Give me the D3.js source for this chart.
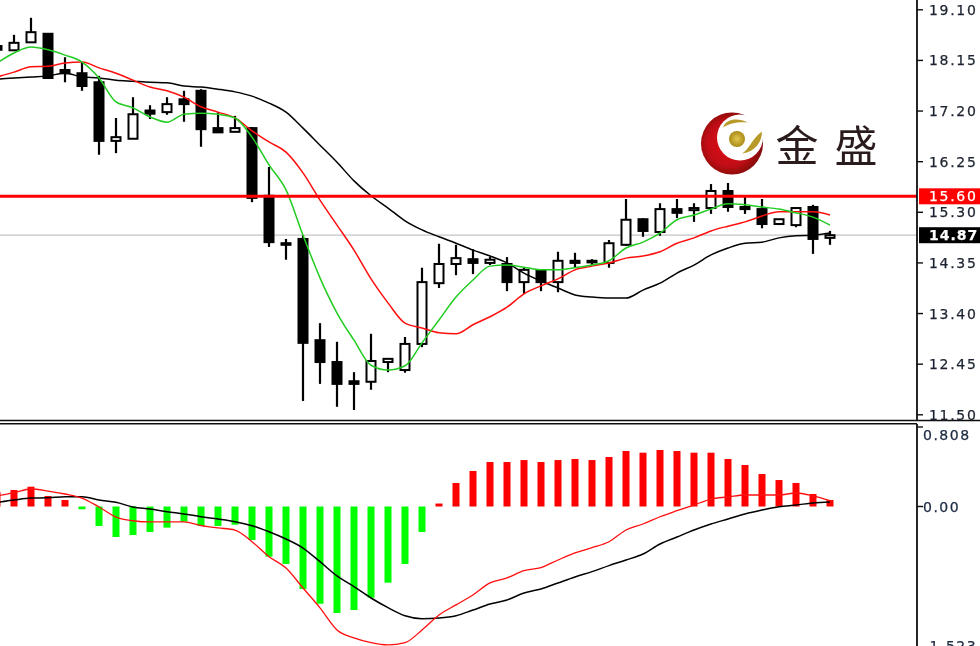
<!DOCTYPE html>
<html><head><meta charset="utf-8">
<script src="https://cdn.jsdelivr.net/npm/d3@7/dist/d3.min.js"></script>
<style>html,body{margin:0;padding:0;background:#fff;overflow:hidden}svg{display:block}</style>
</head><body><svg id="c" width="980" height="646"></svg>
<script>
const opens=[18.42,18.34,18.49,18.65,17.97,17.91,17.74,16.64,16.68,17.21,17.18,17.42,17.58,16.88,16.81,16.88,15.61,14.72,14.80,12.90,12.49,12.13,12.12,12.49,12.34,12.83,13.97,14.33,14.42,14.35,14.33,13.99,14.20,13.99,14.39,14.39,14.35,14.69,15.17,14.93,15.36,15.34,15.38,15.70,15.40,15.36,15.08,15.06,15.40,14.82];
const highs=[18.50,18.63,18.95,18.66,18.21,18.12,17.86,17.07,17.46,17.31,17.46,17.58,17.61,17.18,17.11,16.90,16.15,14.80,14.87,13.22,12.87,12.30,13.02,12.55,12.96,14.26,14.71,14.69,14.61,14.46,14.46,14.26,14.22,14.56,14.54,14.42,14.78,15.55,15.19,15.47,15.55,15.47,15.83,15.85,15.59,15.55,15.17,15.38,15.44,14.95];
const lows=[18.31,18.33,18.48,17.81,17.74,17.58,16.38,16.41,16.68,17.05,17.13,17.00,16.53,16.79,16.81,15.49,14.65,14.41,11.76,12.08,11.65,11.59,11.97,12.30,12.29,12.77,13.88,14.12,14.14,14.31,13.82,13.77,13.82,13.80,14.26,14.31,14.26,14.67,14.84,14.86,15.19,15.12,15.27,15.31,15.27,15.00,15.06,15.02,14.52,14.69];
const closes=[18.35,18.48,18.68,17.82,17.91,17.67,16.64,16.71,17.14,17.15,17.33,17.33,16.86,16.80,16.88,15.57,14.74,14.69,12.85,12.49,12.08,12.08,12.51,12.55,12.83,13.99,14.33,14.44,14.35,14.41,13.99,14.22,13.99,14.39,14.35,14.36,14.72,15.16,14.95,15.36,15.29,15.38,15.70,15.40,15.36,15.08,15.17,15.38,14.80,14.87];
const maFast=[18.10,18.29,18.40,18.35,18.25,18.12,17.82,17.37,17.26,17.09,16.99,17.14,17.16,17.14,17.07,16.71,16.19,15.72,14.87,14.07,13.41,12.90,12.43,12.34,12.42,12.85,13.28,13.71,14.03,14.29,14.31,14.27,14.22,14.22,14.26,14.31,14.39,14.63,14.74,14.91,15.16,15.25,15.36,15.46,15.44,15.40,15.36,15.29,15.21,15.06];
const maMid=[17.84,17.93,18.03,18.04,18.10,18.12,18.01,17.91,17.78,17.65,17.58,17.46,17.28,17.18,17.07,16.83,16.62,16.43,16.04,15.53,15.06,14.59,14.05,13.60,13.22,13.13,13.04,13.02,13.19,13.34,13.52,13.77,13.92,14.05,14.22,14.29,14.35,14.44,14.48,14.56,14.72,14.82,14.95,15.04,15.12,15.23,15.31,15.31,15.31,15.25];
const maSlow=[17.80,17.82,17.84,17.86,17.91,17.84,17.82,17.78,17.76,17.74,17.73,17.67,17.65,17.61,17.56,17.48,17.35,17.18,16.88,16.56,16.24,15.89,15.61,15.38,15.14,14.97,14.84,14.72,14.59,14.48,14.35,14.16,14.01,13.88,13.75,13.71,13.69,13.69,13.84,13.97,14.16,14.31,14.50,14.63,14.72,14.74,14.82,14.86,14.87,14.91];
const macdHist=[.147,.168,.201,.107,.066,-.028,-.198,-.310,-.290,-.259,-.215,-.154,-.198,-.198,-.185,-.340,-.510,-.584,-.838,-.988,-1.082,-1.052,-.927,-.774,-.584,-.259,.030,.239,.361,.452,.452,.472,.452,.472,.483,.472,.503,.564,.547,.574,.564,.547,.547,.483,.422,.330,.269,.239,.127,.066];
const macdRed=[.107,.140,.178,.157,.127,.086,-.005,-.107,-.145,-.157,-.157,-.157,-.195,-.218,-.239,-.358,-.510,-.625,-.828,-1.031,-1.255,-1.336,-1.384,-1.407,-1.384,-1.255,-1.102,-1.000,-.899,-.777,-.726,-.652,-.621,-.544,-.472,-.418,-.358,-.239,-.178,-.104,-.043,.015,.076,.097,.117,.117,.117,.137,.107,.059];
const macdBlack=[.041,.066,.086,.089,.100,.100,.066,.043,-.005,-.025,-.053,-.076,-.104,-.127,-.154,-.195,-.256,-.330,-.422,-.561,-.706,-.815,-.930,-1.028,-1.110,-1.140,-1.133,-1.110,-1.052,-.991,-.950,-.879,-.838,-.777,-.716,-.662,-.601,-.544,-.483,-.381,-.310,-.239,-.178,-.127,-.076,-.036,-.002,.015,.036,.046];
const priceTicks=["19.10","18.15","17.20","16.25","15.30","14.35","13.40","12.45","11.50"];
const resistance=15.60, lastPrice=14.87;
const macdTop=0.808, macdBottom=-1.523;
const brand=["金","盛"];

const svg=d3.select("#c");
const defs=svg.append("defs");
const f=defs.append("filter").attr("id","soft").attr("x",0).attr("y",0).attr("width","100%").attr("height","100%");
f.append("feGaussianBlur").attr("stdDeviation",0.45);
defs.append("clipPath").attr("id","pricePane").append("rect").attr("width",917).attr("height",420);
defs.append("clipPath").attr("id","macdPane").append("rect").attr("y",424).attr("width",917).attr("height",222);
defs.append("clipPath").attr("id","axisClip").append("rect").attr("x",918).attr("y",5).attr("width",62).attr("height",641);
const rg=defs.append("radialGradient").attr("id","logoRed").attr("cx","45%").attr("cy","50%").attr("r","60%");
rg.append("stop").attr("offset","0%").attr("stop-color","#e4151c");
rg.append("stop").attr("offset","60%").attr("stop-color","#c10d14");
rg.append("stop").attr("offset","100%").attr("stop-color","#6e0509");
const gg=defs.append("radialGradient").attr("id","logoGold");
gg.append("stop").attr("offset","0%").attr("stop-color","#e2c84e");
gg.append("stop").attr("offset","100%").attr("stop-color","#a98a17");

const root=svg.append("g").attr("filter","url(#soft)");
const idx=d3.range(opens.length);
const x=d3.scaleLinear().domain([0,49]).range([-3,830]);
const y=d3.scaleLinear().domain([15.30,11.50]).range([212.3,414.8]);
const m=d3.scaleLinear().domain([0,macdTop]).range([506.5,427]);

// Price pane
const p=root.append("g").attr("clip-path","url(#pricePane)");
p.append("line").attr("x1",0).attr("x2",917).attr("y1",y(lastPrice)).attr("y2",y(lastPrice)).attr("stroke","#c4c4c4").attr("stroke-width",1.2);
const cg=p.append("g").selectAll("g").data(idx).join("g");
cg.append("line").attr("x1",i=>x(i)).attr("x2",i=>x(i)).attr("y1",i=>y(highs[i])).attr("y2",i=>y(lows[i])).attr("stroke","#000").attr("stroke-width",2.2);
cg.append("rect").attr("x",i=>x(i)-4.5).attr("width",9)
  .attr("y",i=>y(Math.max(opens[i],closes[i])))
  .attr("height",i=>Math.abs(y(opens[i])-y(closes[i])))
  .attr("fill",i=>closes[i]>=opens[i]?"#fff":"#000").attr("stroke","#000").attr("stroke-width",2);
const ln=d3.line().x((d,i)=>x(i)).y(d=>y(d)).curve(d3.curveMonotoneX);
[[maSlow,"#000"],[maMid,"#ff1010"],[maFast,"#22cc22"]].forEach(([s,c])=>
  p.append("path").attr("d",ln(s)).attr("fill","none").attr("stroke",c).attr("stroke-width",1.5));
p.append("line").attr("x1",0).attr("x2",917).attr("y1",y(resistance)).attr("y2",y(resistance)).attr("stroke","#ff0000").attr("stroke-width",3);

// Pane separators and axis
root.append("line").attr("x1",0).attr("x2",980).attr("y1",420.5).attr("y2",420.5).attr("stroke","#111").attr("stroke-width",1.4);
root.append("line").attr("x1",0).attr("x2",917).attr("y1",423.8).attr("y2",423.8).attr("stroke","#111").attr("stroke-width",1.4);
root.append("line").attr("x1",917).attr("x2",917).attr("y1",0).attr("y2",420).attr("stroke","#111").attr("stroke-width",1.8);
root.append("line").attr("x1",917).attr("x2",917).attr("y1",424).attr("y2",646).attr("stroke","#111").attr("stroke-width",1.8);

// MACD pane
const q=root.append("g").attr("clip-path","url(#macdPane)");
q.selectAll("rect").data(idx).join("rect")
  .attr("x",i=>x(i)-3.5).attr("width",7)
  .attr("y",i=>Math.min(m(0),m(macdHist[i])))
  .attr("height",i=>Math.abs(m(macdHist[i])-m(0)))
  .attr("fill",i=>macdHist[i]>=0?"#ff0000":"#00ff00");
const ml=d3.line().x((d,i)=>x(i)).y(d=>m(d)).curve(d3.curveMonotoneX);
q.append("path").attr("d",ml(macdBlack)).attr("fill","none").attr("stroke","#000").attr("stroke-width",1.5);
q.append("path").attr("d",ml(macdRed)).attr("fill","none").attr("stroke","#ff1010").attr("stroke-width",1.3);

// Axis labels
const font="'DejaVu Sans',Verdana,sans-serif";
const ax=root.append("g").attr("clip-path","url(#axisClip)");
const label=(yy,t,xx,c,ls)=>ax.append("text").attr("x",xx).attr("y",yy).attr("dy","0.36em").text(t)
  .attr("fill",c).attr("font-family",font).attr("font-size",14).attr("letter-spacing",ls==null?1.7:ls)
  .attr("stroke",c).attr("stroke-width",0.25);
const tick=yy=>root.append("line").attr("x1",917).attr("x2",923).attr("y1",yy).attr("y2",yy).attr("stroke","#111").attr("stroke-width",1.4);
priceTicks.forEach(t=>{tick(y(+t)); label(y(+t),t,929,"#1c2430");});
tick(m(macdTop)); tick(m(0));
label(435,String(macdTop),923,"#1c2a40",1.5);
label(m(0),"0.00",923,"#1c2a40",1.5);
label(646,String(macdBottom),923,"#1c2a40",1.5);
ax.append("rect").attr("x",919).attr("y",y(resistance)-8).attr("width",61).attr("height",16).attr("fill","#ff0000");
label(y(resistance),resistance.toFixed(2),929,"#fff");
ax.append("rect").attr("x",919).attr("y",y(lastPrice)-8).attr("width",61).attr("height",16).attr("fill","#000");
label(y(lastPrice),lastPrice.toFixed(2),929,"#fff",1).attr("font-weight","bold");

// Brand mark
const logo=root.append("g").attr("transform","translate(732,143.5)");
logo.append("circle").attr("r",31).attr("fill","url(#logoRed)");
logo.append("circle").attr("cx",8).attr("cy",-6).attr("r",23).attr("fill","#fff");
logo.append("circle").attr("cx",5).attr("cy",-4.5).attr("r",8).attr("fill","url(#logoGold)");
logo.append("path").attr("d","M-9,-16 C-6,-25 6,-26 16,-21 C8,-22 -2,-21 -9,-16Z").attr("fill","#b89a2a");
logo.append("path").attr("d","M30,-12 C30,-2 24,8 10,10 C18,5 20,-5 30,-12Z").attr("fill","#b89a2a");
root.selectAll("text.brand").data(brand).join("text").attr("class","brand")
  .attr("x",(d,i)=>797+i*59).attr("y",162).attr("text-anchor","middle").text(d=>d)
  .attr("font-family","'Noto Sans CJK SC',sans-serif").attr("font-size",43).attr("fill","#2b1c1c");
</script></body></html>
